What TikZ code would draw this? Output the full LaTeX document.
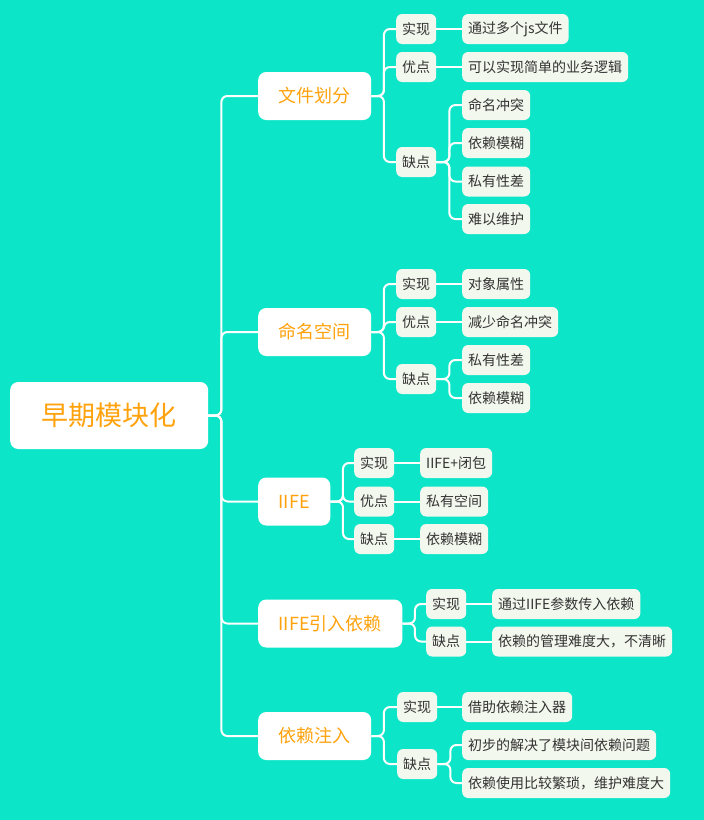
\documentclass[tikz,border=0pt]{standalone}
\usepackage{fontspec}
\newfontfamily\cjk{Noto Sans CJK SC}
\usepackage{xcolor}
\usepackage{tikz}
\definecolor{bgteal}{HTML}{0DE5C9}
\definecolor{leafbg}{HTML}{F3F8EE}
\definecolor{topictxt}{HTML}{FFA20C}
\definecolor{leaftxt}{HTML}{333333}
\tikzset{
  root/.style={rounded corners=8pt, fill=white, text=topictxt, inner xsep=31.5pt,
               minimum height=67pt, font=\cjk\fontsize{27}{30}\selectfont, anchor=west},
  topic/.style={rounded corners=8pt, fill=white, text=topictxt, inner xsep=20.5pt,
                minimum height=48pt, font=\cjk\fontsize{18}{21}\selectfont, anchor=west},
  tag/.style={rounded corners=6pt, fill=leafbg, text=leaftxt, inner xsep=6pt,
              minimum height=30pt, font=\cjk\fontsize{14}{16}\selectfont, anchor=west},
  leaf/.style={tag},
  link/.style={draw=white, line width=2pt, rounded corners=6pt}
}
\begin{document}
\begin{tikzpicture}[x=1pt, y=-1pt]
  \fill[bgteal] (0,0) rectangle (704,820);
  \useasboundingbox (0,0) rectangle (704,820);

  % centre
  \node[root] (early) at (10,415.5) {早期模块化};

  % main topics
  \node[topic] (file) at (258,96) {文件划分};
  \node[topic] (ns) at (258,332) {命名空间};
  \node[topic] (iife) at (258,501.5) {IIFE};
  \node[topic] (dep) at (258,623.5) {IIFE引入依赖};
  \node[topic] (di) at (258,736) {依赖注入};

  % file split
  \node[tag] (file1) at (396,29) {实现};
  \node[tag] (file2) at (396,67) {优点};
  \node[tag] (file3) at (396,162) {缺点};
  \node[leaf] (file1a) at (462,29) {通过多个js文件};
  \node[leaf] (file2a) at (462,67) {可以实现简单的业务逻辑};
  \node[leaf] (file3a) at (462,105) {命名冲突};
  \node[leaf] (file3b) at (462,143) {依赖模糊};
  \node[leaf] (file3c) at (462,181.5) {私有性差};
  \node[leaf] (file3d) at (462,219) {难以维护};

  % namespace
  \node[tag] (ns1) at (396,284) {实现};
  \node[tag] (ns2) at (396,322) {优点};
  \node[tag] (ns3) at (396,379) {缺点};
  \node[leaf] (ns1a) at (462,284) {对象属性};
  \node[leaf] (ns2a) at (462,322) {减少命名冲突};
  \node[leaf] (ns3a) at (462,360) {私有性差};
  \node[leaf] (ns3b) at (462,398) {依赖模糊};

  % iife
  \node[tag] (iife1) at (354,463) {实现};
  \node[tag] (iife2) at (354,501.5) {优点};
  \node[tag] (iife3) at (354,539) {缺点};
  \node[leaf] (iife1a) at (420,463) {IIFE+闭包};
  \node[leaf] (iife2a) at (420,501.5) {私有空间};
  \node[leaf] (iife3a) at (420,539) {依赖模糊};

  % iife with deps
  \node[tag] (dep1) at (426,604) {实现};
  \node[tag] (dep2) at (426,641.5) {缺点};
  \node[leaf] (dep1a) at (492,604) {通过IIFE参数传入依赖};
  \node[leaf] (dep2a) at (492,641.5) {依赖的管理难度大，不清晰};

  % injection
  \node[tag] (di1) at (397,707) {实现};
  \node[tag] (di2) at (397,764) {缺点};
  \node[leaf] (di1a) at (462,707) {借助依赖注入器};
  \node[leaf] (di2a) at (462,745) {初步的解决了模块间依赖问题};
  \node[leaf] (di2b) at (462,783) {依赖使用比较繁琐，维护难度大};

  % connectors
  \foreach \c in {file,ns,iife,dep,di}
    \draw[link] (early.east) -- ++(13,0) |- (\c.west);
  \foreach \c in {file1,file2,file3}
    \draw[link] (file.east) -- ++(12.5,0) |- (\c.west);
  \foreach \c in {ns1,ns2,ns3}
    \draw[link] (ns.east) -- ++(12.5,0) |- (\c.west);
  \foreach \c in {iife1,iife2,iife3}
    \draw[link] (iife.east) -- ++(12.5,0) |- (\c.west);
  \foreach \c in {dep1,dep2}
    \draw[link] (dep.east) -- ++(12.5,0) |- (\c.west);
  \foreach \c in {di1,di2}
    \draw[link] (di.east) -- ++(12.5,0) |- (\c.west);
  \draw[link] (file1) -- (file1a);
  \draw[link] (file2) -- (file2a);
  \foreach \c in {file3a,file3b,file3c,file3d}
    \draw[link] (file3.east) -- ++(13,0) |- (\c.west);
  \draw[link] (ns1) -- (ns1a);
  \draw[link] (ns2) -- (ns2a);
  \foreach \c in {ns3a,ns3b}
    \draw[link] (ns3.east) -- ++(13,0) |- (\c.west);
  \draw[link] (iife1) -- (iife1a);
  \draw[link] (iife2) -- (iife2a);
  \draw[link] (iife3) -- (iife3a);
  \draw[link] (dep1) -- (dep1a);
  \draw[link] (dep2) -- (dep2a);
  \draw[link] (di1) -- (di1a);
  \foreach \c in {di2a,di2b}
    \draw[link] (di2.east) -- ++(13,0) |- (\c.west);
\end{tikzpicture}
\end{document}
